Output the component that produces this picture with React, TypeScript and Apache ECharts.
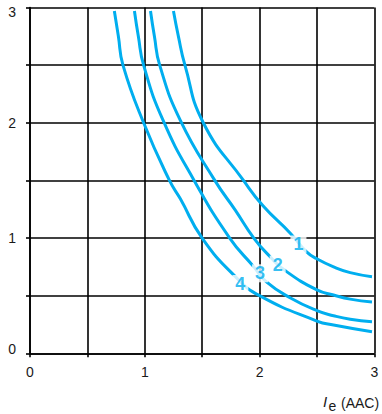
import React, { useEffect, useRef } from 'react';
import * as echarts from 'echarts';

// Curves: [Ie (AAC), y]
const curve1 = [
  [1.25, 2.97], [1.293, 2.75], [1.35, 2.5], [1.51, 2.0], [1.86, 1.5],
  [2.03, 1.28], [2.27, 1.04], [2.41, 0.88], [2.5, 0.82], [2.645, 0.75],
  [2.79, 0.70], [2.98, 0.665],
];
const curve2 = [
  [1.05, 2.97], [1.084, 2.75], [1.13, 2.5], [1.31, 2.02], [1.61, 1.5],
  [1.79, 1.24], [1.95, 1.0], [2.09, 0.84], [2.22, 0.72], [2.5, 0.55], [2.645, 0.506],
  [2.79, 0.47], [2.98, 0.445],
];
const curve3 = [
  [0.91, 2.97], [0.944, 2.75], [0.99, 2.5], [1.16, 2.02], [1.43, 1.5],
  [1.74, 1.0], [1.95, 0.75], [2.06, 0.62], [2.27, 0.48], [2.5, 0.37], [2.645, 0.326],
  [2.79, 0.295], [2.98, 0.274],
];
const curve4 = [
  [0.735, 2.97], [0.77, 2.75], [0.81, 2.5], [0.99, 2.0], [1.215, 1.5], [1.31, 1.34],
  [1.5, 1.0], [1.79, 0.665], [2.0, 0.5], [2.5, 0.28], [2.645, 0.245],
  [2.98, 0.187],
];

const curveNames = ['1', '2', '3', '4'];
const labelX = [2.339, 2.158, 2.005, 1.833];
const labelY = [0.944, 0.769, 0.694, 0.601];

const xMin = 0;
const xMax = 3;
const yMin = 0;
const yMax = 3;
const gridStep = 0.5;

export default function App() {
  const ref = useRef<HTMLDivElement>(null);

  useEffect(() => {
    document.body.style.margin = '0';
    const chart = echarts.init(ref.current as HTMLDivElement, null, { renderer: 'svg' });
    const font = "'Liberation Sans', Arial, Helvetica, sans-serif";
    const blue = '#00AEEF';
    const ink = '#000';
    const textInk = '#1a1a1a';
    const lw = 1.6;
    const curves = [curve1, curve2, curve3, curve4];

    chart.setOption({
      animation: false,
      backgroundColor: '#fff',
      grid: { left: 30, top: 7.5, width: 344.3, height: 345.8, containLabel: false },
      xAxis: {
        type: 'value',
        min: xMin,
        max: xMax,
        interval: gridStep,
        axisLine: { show: true, onZero: false, lineStyle: { color: ink, width: lw } },
        axisTick: { show: true, length: 4, lineStyle: { color: ink, width: lw } },
        splitLine: { show: true, lineStyle: { color: ink, width: lw } },
        axisLabel: {
          margin: 12,
          fontSize: 14,
          color: textInk,
          fontFamily: font,
          formatter: (v: number) => (Number.isInteger(v) ? String(v) : ''),
        },
      },
      yAxis: {
        type: 'value',
        min: yMin,
        max: yMax,
        interval: gridStep,
        axisLine: { show: true, onZero: false, lineStyle: { color: ink, width: lw } },
        axisTick: { show: true, length: 4, lineStyle: { color: ink, width: lw } },
        splitLine: { show: true, lineStyle: { color: ink, width: lw } },
        axisLabel: {
          margin: 14,
          fontSize: 14,
          color: textInk,
          fontFamily: font,
          formatter: (v: number) => {
            if (!Number.isInteger(v)) return '';
            if (v === yMax) return '{t|' + v + '}';
            if (v === yMin) return '{b|' + v + '}';
            return '{n|' + v + '}';
          },
          rich: {
            t: { fontSize: 14, color: textInk, fontFamily: font, padding: [9, 0, 0, 0] },
            b: { fontSize: 14, color: textInk, fontFamily: font, padding: [0, 0, 8, 0] },
            n: { fontSize: 14, color: textInk, fontFamily: font },
          },
        },
      },
      series: [
        ...curves.map((c, i) => ({
          type: 'line',
          name: curveNames[i],
          data: c,
          smooth: 0.5,
          showSymbol: false,
          symbol: 'none',
          silent: true,
          z: 3,
          lineStyle: { color: blue, width: 3, cap: 'butt' },
        })),
        {
          type: 'scatter',
          data: labelX.map((x, i) => [x, labelY[i], curveNames[i]]),
          symbolSize: 1,
          itemStyle: { color: 'rgba(0,0,0,0)' },
          silent: true,
          z: 10,
          label: {
            show: true,
            position: 'inside',
            formatter: (p: any) => p.value[2],
            fontSize: 18,
            fontWeight: 'bold',
            fontFamily: font,
            color: blue,
            backgroundColor: '#fff',
            padding: [0, 3, 0, 3],
          },
        },
      ],
      graphic: [
        {
          type: 'text',
          x: 323,
          y: 401.5,
          style: {
            text: 'I',
            font: "italic 15px 'Liberation Sans', Arial, sans-serif",
            fill: textInk,
            align: 'left',
            verticalAlign: 'middle',
          },
        },
        {
          type: 'text',
          x: 328.5,
          y: 406,
          style: {
            text: 'e',
            font: "14px 'Liberation Sans', Arial, sans-serif",
            fill: textInk,
            align: 'left',
            verticalAlign: 'middle',
          },
        },
        {
          type: 'text',
          x: 341,
          y: 403,
          style: {
            text: '(AAC)',
            font: "14px 'Liberation Sans', Arial, sans-serif",
            fill: textInk,
            align: 'left',
            verticalAlign: 'middle',
          },
        },
      ],
    });

    return () => chart.dispose();
  }, []);

  return <div ref={ref} style={{ width: 382, height: 414 }} />;
}
